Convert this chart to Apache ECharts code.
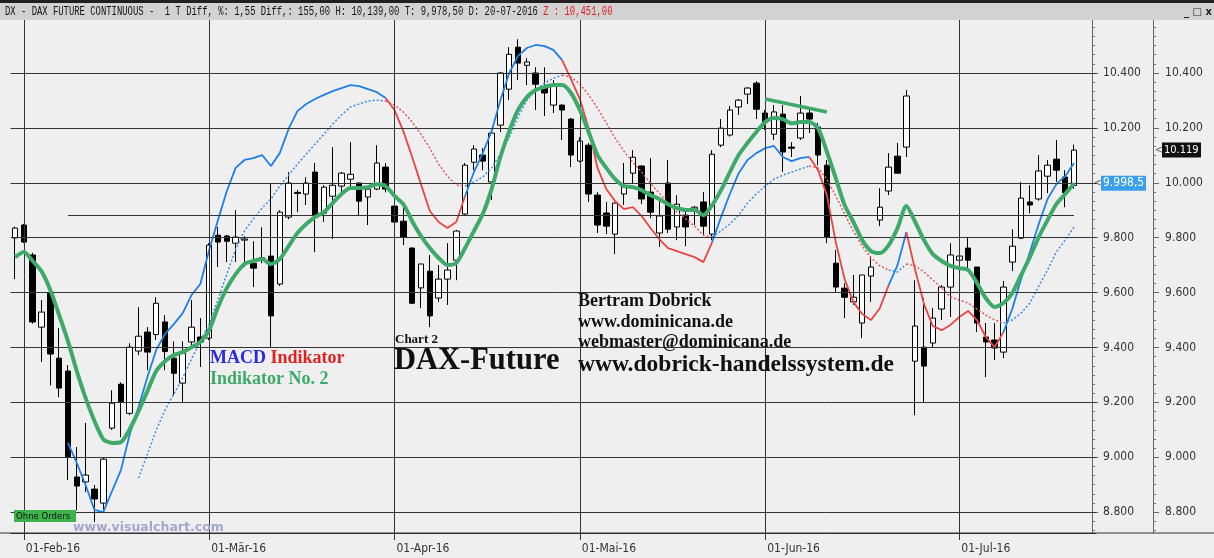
<!DOCTYPE html>
<html><head><meta charset="utf-8">
<script src="https://cdn.jsdelivr.net/npm/echarts@6/dist/echarts.min.js"></script>
<style>html,body{margin:0;padding:0;background:#efefef;}#c{width:1214px;height:558px;}</style>
</head><body><div id="c"></div>
<script>
// ---------- DATA ----------
// OHLC per trading day: [open, close, low, high]
const candles = [
[9799,9835,9649,9840],[9846,9784,9780,9850],[9737,9493,9487,9745],[9474,9529,9347,9573],[9598,9376,9262,9601],
[9361,9252,9219,9471],[9314,9001,8917,9336],[8928,8895,8807,9037],[8910,8935,8873,9125],[8884,8848,8764,8899],
[8833,8993,8808,8997],[9106,9197,9100,9244],[9266,9200,9073,9273],[9160,9401,9153,9415],[9387,9441,9372,9547],
[9456,9383,9317,9474],[9447,9561,9427,9583],[9493,9385,9317,9518],[9361,9306,9226,9422],[9270,9379,9200,9422],
[9420,9474,9409,9573],[9438,9420,9329,9507],[9434,9773,9427,9780],[9809,9784,9693,9839],[9806,9787,9711,9810],
[9780,9802,9711,9900],[9791,9795,9693,9805],[9707,9689,9620,9787],[9722,9727,9707,9838],[9733,9515,9400,9998],
[9631,9893,9624,9900],[9875,9999,9867,10039],[9965,9961,9893,9974],[9959,9999,9919,10020],[10039,9882,9747,10072],
[9889,9984,9857,9991],[9951,9991,9795,10130],[9988,10035,9966,10039],[10013,10031,9988,10148],[9999,9933,9882,10001],
[9948,9977,9846,9980],[9977,10072,9973,10137],[10057,9977,9965,10072],[9915,9857,9846,9926],[9860,9802,9773,9919],
[9762,9561,9558,9765],[9617,9704,9543,9704],[9678,9515,9474,9737],[9580,9649,9566,9700],[9649,9682,9555,9780],
[9718,9824,9645,9828],[9886,10064,9882,10072],[10075,10123,10046,10137],[10101,10079,10046,10126],[10003,10181,9937,10185],
[10210,10400,10185,10403],[10341,10468,10301,10494],[10494,10436,10374,10523],[10428,10440,10356,10454],[10400,10359,10265,10421],
[10345,10327,10243,10421],[10283,10356,10254,10374],[10283,10265,10156,10285],[10232,10101,10057,10236],[10079,10152,10075,10166],
[10137,9959,9930,10145],[9955,9846,9817,9966],[9890,9842,9813,9930],[9813,9926,9740,9928],[9959,9988,9919,10072],
[10035,10093,9999,10119],[10061,9941,9922,10064],[9966,9893,9871,10090],[9817,9879,9766,9944],[9999,9831,9817,10083],
[9839,9922,9791,9955],[9882,9839,9769,9908],[9904,9911,9846,9915],[9930,9842,9810,9966],[9813,10104,9791,10119],
[10137,10199,10130,10232],[10174,10265,10168,10280],[10276,10301,10247,10305],[10323,10345,10287,10349],[10363,10268,10232,10370],
[10254,10221,10192,10265],[10177,10258,10156,10283],[10250,10112,10039,10283],[10130,10126,10094,10148],[10163,10254,10156,10316],
[10254,10232,10181,10272],[10203,10101,10064,10218],[10064,9802,9780,10083],[9707,9620,9602,9755],[9616,9583,9507,9634],
[9566,9583,9555,9664],[9489,9664,9434,9664],[9660,9693,9566,9733],[9864,9911,9842,9980],[9970,10057,9955,10108],
[10097,10035,10035,10145],[10130,10316,10094,10338],[9350,9478,9153,9645],[9401,9332,9200,9580],[9416,9507,9401,9543],
[9540,9620,9500,9627],[9620,9737,9511,9780],[9718,9733,9711,9744],[9762,9718,9689,9802],[9693,9489,9456,9693],
[9438,9420,9292,9489],[9427,9398,9354,9489],[9383,9620,9361,9642],[9711,9769,9678,9831],[9798,9944,9795,10003],
[9930,9919,9889,9991],[9941,10043,9935,10101],[10024,10064,9962,10083],[10086,10046,10003,10156],[10021,9964,9911,10046],
[9990,10119,9978.5,10139]
];
// "Indikator No. 2" (thick green)
const indicator2 = [
9729,9748,9715,9678,9609,9518,9423,9314,9216,9132,
9066,9052,9055,9103,9168,9241,9314,9350,9372,9383,
9401,9420,9463,9547,9616,9667,9704,9715,9722,9704,
9722,9769,9817,9850,9875,9893,9926,9959,9981,9981,
9984,9995,9988,9952,9922,9860,9806,9762,9726,9700,
9708,9762,9824,9886,9977,10094,10188,10265,10312,10338,
10349,10356,10356,10327,10265,10185,10101,10054,10013,9988,
9984,9973,9955,9941,9922,9908,9901,9901,9882,9919,
9973,10039,10101,10145,10185,10221,10236,10232,10217,10221,
10221,10199,10112,10017,9919,9857,9791,9751,9744,9773,
9835,9915,9857,9791,9740,9715,9697,9689,9682,9635,
9580,9547,9562,9598,9664,9729,9802,9864,9922,9959,
9998.5
];
// MACD line (solid) drawn on price scale
const macdLine = [
null,null,null,null,null,null,
9052,8979,8899,8808,8800,8877,8953,9084,9183,9292,
9391,9449,9485,9525,9591,9631,9755,9864,9970,10054,
10083,10090,10101,10061,10108,10196,10261,10287,10305,10320,
10334,10345,10356,10352,10341,10330,10309,10265,10188,10094,
9995,9897,9857,9835,9857,9952,10039,10108,10188,10301,
10400,10462,10491,10502,10498,10484,10447,10378,10305,10199,
10054,9977,9933,9904,9911,9879,9835,9795,9762,9751,
9740,9729,9711,9784,9875,9959,10035,10083,10108,10126,
10134,10094,10079,10090,10094,10046,9955,9784,9649,9565,
9522,9500,9544,9627,9700,9820,9682,9558,9478,9463,
9482,9511,9533,9500,9438,9401,9456,9540,9649,9748,
9850,9941,9995,10024,10072
];
// Signal line (dotted)
const signalLine = [
null,null,null,null,null,null,null,null,null,null,null,null,null,null,
8924,9012,9099,9172,9230,9289,9358,9423,9485,9576,
9667,9758,9824,9868,9908,9941,9988,10028,10068,10105,
10141,10177,10214,10247,10276,10287,10298,10301,10298,10283,
10258,10221,10177,10126,10068,10024,9992,9988,10003,10021,
10054,10105,10166,10239,10301,10338,10363,10381,10392,10385,
10360,10320,10272,10218,10163,10115,10075,10039,9999,9962,
9926,9893,9868,9842,9809,9802,9824,9850,9882,9926,
9959,9988,10013,10028,10039,10050,10061,10054,10013,9952,
9886,9824,9769,9726,9697,9682,9675,9704,9697,9675,
9646,9616,9584,9573,9562,9540,9518,9500,9489,9500,
9525,9562,9624,9682,9748,9791,9839
];
const monthIdx = [1, 22, 43, 64, 85, 107];
const monthLabels = ['01-Feb-16', '01-M\u00e4r-16', '01-Apr-16', '01-Mai-16', '01-Jun-16', '01-Jul-16'];
const majorTicks = [8800, 9000, 9200, 9400, 9600, 9800, 10000, 10200, 10400, 10600];
const refLevel = 9882;          // horizontal reference line
const trendLine = [[85, 10305], [92, 10258]];
const lastClose = 10119, lastIndicator = 9998.5;

// ---------- SETUP ----------
const N_SLOTS = 123;
const cats = Array.from({length: N_SLOTS}, (_, i) => 'd' + i);
const Y_MIN = 8724, Y_MAX = 10593;
const minorTicks = [];
for (let k = 0; k <= 60; k++) { const v = 8600 + k * 200 / 6; if (v > Y_MIN && v < Y_MAX && Math.abs(v / 200 - Math.round(v / 200)) > 1e-6) minorTicks.push(v); }
const NARROW = "'Liberation Sans Narrow','DejaVu Sans Condensed','Liberation Sans',sans-serif";
const SERIF = "'Liberation Serif','DejaVu Serif',serif";
const fmt = v => { const s = String(Math.round(v)); return s.length > 3 ? s.slice(0, s.length - 3) + '.' + s.slice(-3) : s; };

const C_BLUE = '#1e80e4', C_RED = '#ea4545', C_BLUE_D = '#3a8fe4', C_RED_D = '#e25b5b', C_GREEN = '#3eaa6a';

function splitByCross(vals) {
  const blue = vals.map(() => null), red = vals.map(() => null);
  for (let i = 0; i < vals.length - 1; i++) {
    const a = vals[i], b = vals[i + 1];
    if (a == null || b == null) continue;
    const isBlue = signalLine[i + 1] == null || macdLine[i + 1] >= signalLine[i + 1];
    const t = isBlue ? blue : red;
    t[i] = a; t[i + 1] = b;
  }
  return [blue, red];
}
const [macdBlue, macdRed] = splitByCross(macdLine);
const [sigBlue, sigRed] = splitByCross(signalLine);

const yBase = {type: 'value', min: Y_MIN, max: Y_MAX, position: 'right', splitLine: {show: false}, scale: true};
const majorAxis = (offset, margin) => Object.assign({}, yBase, {
  offset,
  axisLine: {show: true, lineStyle: {color: '#666', width: 1}},
  axisTick: {show: true, length: 6, customValues: majorTicks, lineStyle: {color: '#666'}},
  axisLabel: {show: true, customValues: majorTicks, formatter: fmt, margin, color: '#333', fontSize: 12, fontFamily: NARROW}
});
const minorAxis = (offset) => Object.assign({}, yBase, {
  offset,
  axisLine: {show: false},
  axisTick: {show: true, length: 3, customValues: minorTicks, lineStyle: {color: '#777'}},
  axisLabel: {show: false}
});

const lineSeries = (name, data, color, width, dotted, z) => ({
  name, type: 'line', data, z, showSymbol: false, symbol: 'none', connectNulls: false, silent: true,
  lineStyle: {color, width, type: dotted ? [2, 2] : 'solid'}
});

const gridLines = [];
majorTicks.forEach(v => { if (v < Y_MAX) gridLines.push({yAxis: v}); });
monthIdx.forEach(i => gridLines.push({xAxis: cats[i]}));
gridLines.push([{coord: [cats[6], refLevel]}, {coord: [cats[120], refLevel]}]);

const staticGraphics = [
  {type: 'rect', id: 'hdrTop', shape: {x: 0, y: 0, width: 1214, height: 3}, style: {fill: '#202020'}, z: 100},
  {type: 'rect', id: 'hdrBar', shape: {x: 0, y: 3, width: 1214, height: 17}, style: {fill: '#d2d2d2'}, z: 100},
  {type: 'text', id: 'hdrText', x: 5, y: 12, scaleX: 0.74, z: 101, style: {
    text: '{n|DX - DAX FUTURE CONTINUOUS -  1 T Diff, %: 1,55 Diff,: 155,00 H: 10,139,00 T: 9,978,50 D: 20-07-2016 }{r|Z : 10,451,00}',
    font: "12px 'Liberation Mono', monospace", textVerticalAlign: 'middle', verticalAlign: 'middle',
    rich: {n: {fill: '#111', font: "12px 'Liberation Mono', monospace"}, r: {fill: '#e02020', font: "12px 'Liberation Mono', monospace"}}
  }},
  {type: 'text', id: 'winBtns', x: 1184, y: 12, z: 101, style: {text: '_ \u25a1 x', font: "bold 10px 'DejaVu Sans', sans-serif", fill: '#222', textVerticalAlign: 'middle', verticalAlign: 'middle'}},
  {type: 'text', id: 'macdTxt', x: 210, y: 358, z: 50, style: {
    text: '{b|MACD} {r|Indikator}', font: 'bold 18px ' + SERIF, textVerticalAlign: 'middle', verticalAlign: 'middle',
    rich: {b: {fill: '#2a2ae0', font: 'bold 18px ' + SERIF}, r: {fill: '#e02222', font: 'bold 18px ' + SERIF}}
  }},
  {type: 'text', id: 'ind2Txt', x: 210, y: 379, z: 50, style: {text: 'Indikator No. 2', font: 'bold 18px ' + SERIF, fill: C_GREEN, textVerticalAlign: 'middle', verticalAlign: 'middle'}},
  {type: 'text', id: 'chart2', x: 395, y: 340, z: 50, style: {text: 'Chart 2', font: 'bold 13px ' + SERIF, fill: '#111', textVerticalAlign: 'middle', verticalAlign: 'middle'}},
  {type: 'text', id: 'daxF', x: 394, y: 361, z: 50, style: {text: 'DAX-Future', font: 'bold 30.5px ' + SERIF, fill: '#111', textVerticalAlign: 'middle', verticalAlign: 'middle'}},
  {type: 'text', id: 'bd1', x: 578, y: 301, z: 50, style: {text: 'Bertram Dobrick', font: 'bold 18px ' + SERIF, fill: '#111', textVerticalAlign: 'middle', verticalAlign: 'middle'}},
  {type: 'text', id: 'bd2', x: 578, y: 322, z: 50, style: {text: 'www.dominicana.de', font: 'bold 18px ' + SERIF, fill: '#111', textVerticalAlign: 'middle', verticalAlign: 'middle'}},
  {type: 'text', id: 'bd3', x: 578, y: 342, z: 50, style: {text: 'webmaster@dominicana.de', font: 'bold 18px ' + SERIF, fill: '#111', textVerticalAlign: 'middle', verticalAlign: 'middle'}},
  {type: 'text', id: 'bd4', x: 578, y: 365, z: 50, style: {text: 'www.dobrick-handelssystem.de', font: 'bold 23.5px ' + SERIF, fill: '#111', textVerticalAlign: 'middle', verticalAlign: 'middle'}},
  {type: 'rect', id: 'ohneBg', shape: {x: 14, y: 510, width: 62, height: 12}, style: {fill: '#3cb44a'}, z: 50},
  {type: 'text', id: 'ohneTx', x: 16, y: 516.5, z: 51, style: {text: 'Ohne Orders', font: '9.5px ' + NARROW, fill: '#111', textVerticalAlign: 'middle', verticalAlign: 'middle'}},
  {type: 'text', id: 'vcTx', x: 73, y: 528, z: 50, style: {text: 'www.visualchart.com', font: "bold 12.5px 'DejaVu Sans', sans-serif", fill: '#a2a8cc', textVerticalAlign: 'middle', verticalAlign: 'middle'}}
];

const option = {
  animation: false,
  backgroundColor: '#efefef',
  grid: {left: 10.6, right: 117.9, top: 20, bottom: 25, show: false, containLabel: false},
  xAxis: {
    type: 'category', data: cats, boundaryGap: true,
    axisLine: {show: true, lineStyle: {color: '#333'}},
    axisTick: {show: true, alignWithLabel: true, length: 7, interval: (i) => monthIdx.includes(i), lineStyle: {color: '#333'}},
    axisLabel: {
      interval: (i) => monthIdx.includes(i),
      formatter: (v, i) => { const k = monthIdx.indexOf(i); return k >= 0 ? monthLabels[k] : ''; },
      align: 'left', padding: [0, 0, 0, 2], margin: 10, color: '#333', fontSize: 12, fontFamily: NARROW
    },
    splitLine: {show: false}
  },
  yAxis: [majorAxis(-4, 11), minorAxis(-4), majorAxis(57, 12), minorAxis(57)],
  series: [
    {type: 'line', data: cats.map(() => null), z: 1, silent: true, showSymbol: false,
      markLine: {silent: true, symbol: ['none', 'none'], label: {show: false}, animation: false,
        lineStyle: {color: '#333333', width: 1, type: 'solid'}, data: gridLines}},
    {type: 'candlestick', data: candles, z: 2, barWidth: 6, silent: true,
      itemStyle: {color: '#ffffff', color0: '#000000', borderColor: '#000000', borderColor0: '#000000', borderWidth: 1}},
    lineSeries('sigBlue', sigBlue, C_BLUE_D, 1.5, true, 3),
    lineSeries('sigRed', sigRed, C_RED_D, 1.5, true, 3),
    lineSeries('macdBlue', macdBlue, C_BLUE, 1.8, false, 4),
    lineSeries('macdRed', macdRed, C_RED, 1.8, false, 4),
    Object.assign(lineSeries('indicator2', indicator2, C_GREEN, 4, false, 5), {smooth: 0.25,
      markLine: {silent: true, symbol: ['none', 'none'], label: {show: false}, animation: false,
        lineStyle: {color: C_GREEN, width: 3.5, type: 'solid'},
        data: [[{coord: [cats[trendLine[0][0]], trendLine[0][1]]}, {coord: [cats[trendLine[1][0]], trendLine[1][1]]}]]}})
  ],
  graphic: {elements: staticGraphics}
};

const chart = echarts.init(document.getElementById('c'), null, {renderer: 'canvas'});
chart.setOption(option);

// value tags on the axes, positioned through the chart's own scales
const yInd = chart.convertToPixel({yAxisIndex: 0}, lastIndicator);
const yClose = chart.convertToPixel({yAxisIndex: 0}, lastClose);
const yAxisLine = chart.convertToPixel({yAxisIndex: 0}, Y_MIN);
chart.setOption({graphic: {elements: [
  {type: 'line', id: 'baseExt', shape: {x1: 0, y1: yAxisLine, x2: 1214, y2: yAxisLine}, style: {stroke: '#333', lineWidth: 1}, z: 40},
  {type: 'text', id: 'arr1', x: 1094, y: yInd, z: 60, style: {text: '<', font: '10px ' + NARROW, fill: '#555', textVerticalAlign: 'middle', verticalAlign: 'middle'}},
  {type: 'rect', id: 'tag1', shape: {x: 1101, y: yInd - 7.5, width: 45, height: 15}, style: {fill: '#3aa0ee'}, z: 60},
  {type: 'text', id: 'tag1t', x: 1103, y: yInd, z: 61, style: {text: '9.998,5', font: '12px ' + NARROW, fill: '#ffffff', textVerticalAlign: 'middle', verticalAlign: 'middle'}},
  {type: 'text', id: 'arr2', x: 1155, y: yClose, z: 60, style: {text: '<', font: '10px ' + NARROW, fill: '#555', textVerticalAlign: 'middle', verticalAlign: 'middle'}},
  {type: 'rect', id: 'tag2', shape: {x: 1162, y: yClose - 7.5, width: 39, height: 15}, style: {fill: '#111111'}, z: 60},
  {type: 'text', id: 'tag2t', x: 1164, y: yClose, z: 61, style: {text: fmt(lastClose), font: '11px ' + NARROW, fill: '#ffffff', textVerticalAlign: 'middle', verticalAlign: 'middle'}}
]}});
</script></body></html>
